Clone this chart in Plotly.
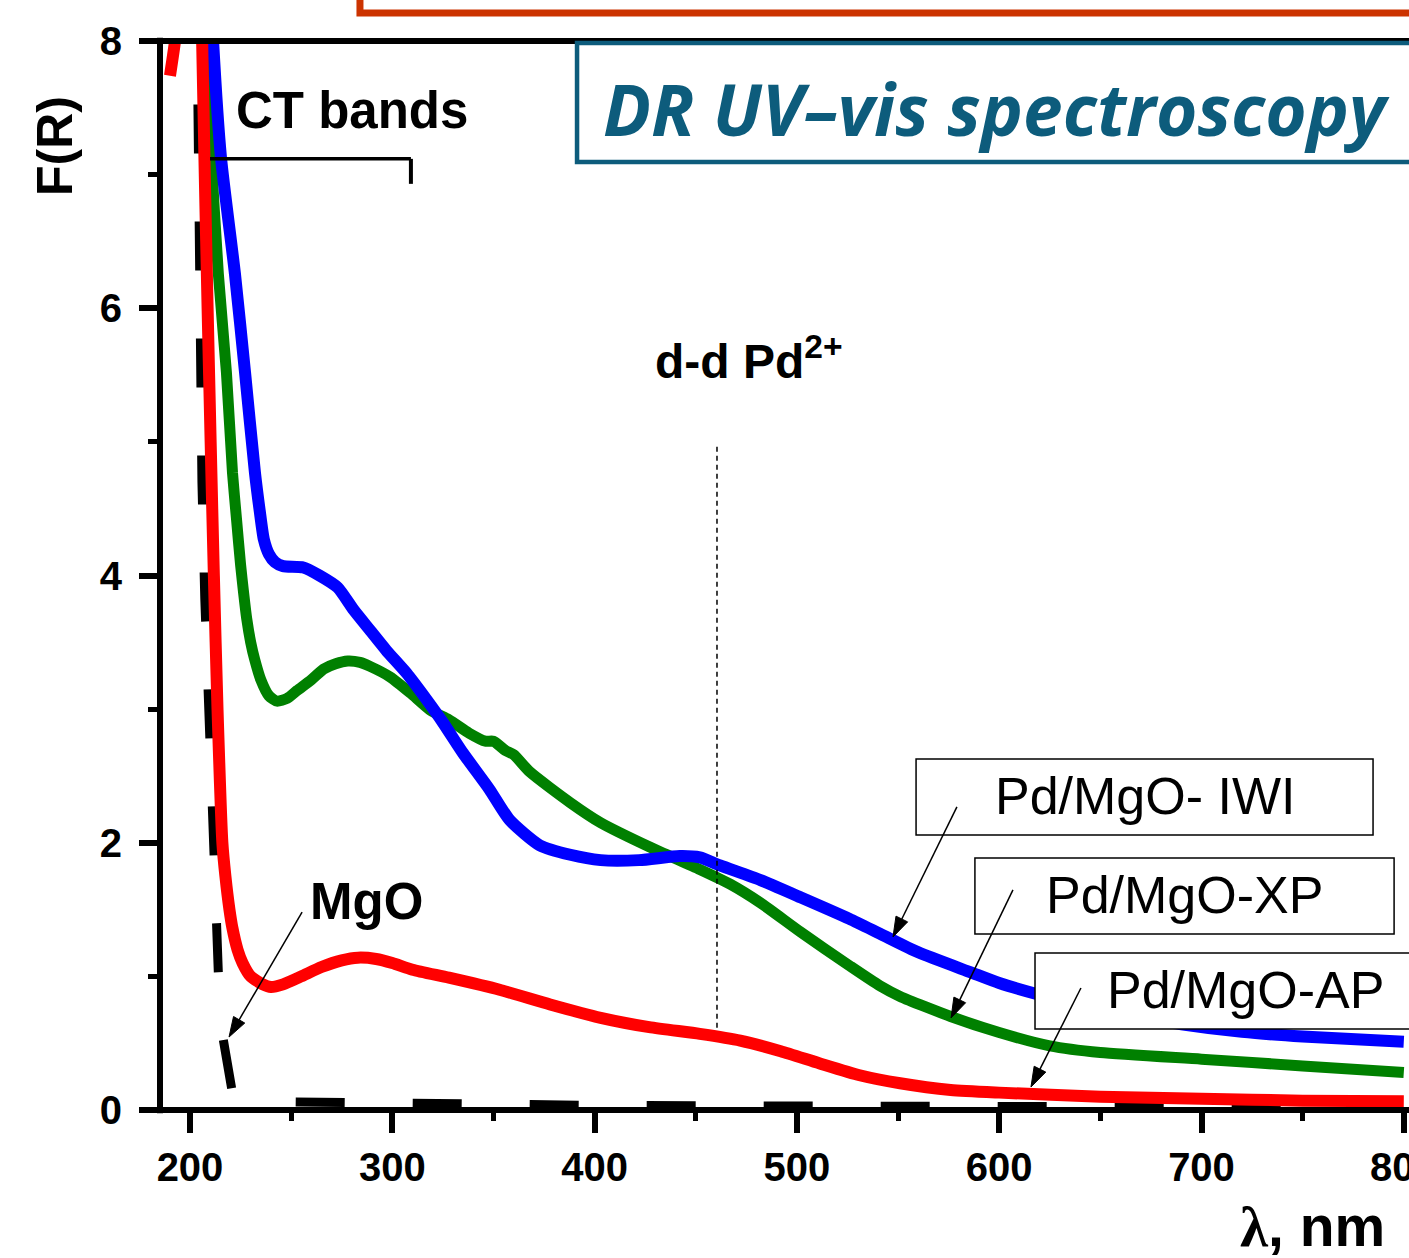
import math
import plotly.graph_objects as go

# ---- DR UV-vis spectra: wavelength (nm) and Kubelka-Munk F(R) ----
wl_iwi = [210.5, 211.4, 215.3, 222.2, 227.2, 232.1, 234.5, 236.5, 239, 242,
          246, 256, 264, 273, 281, 289, 297, 307, 317, 325,
          335, 348, 358, 373, 388, 403, 422, 442, 452, 462,
          482, 502, 526, 541, 560, 586, 600, 618, 650, 691,
          720, 750, 800]
fr_iwi = [8.3, 8.0, 7.13, 6.26, 5.52, 4.77, 4.48, 4.27, 4.16, 4.10,
          4.07, 4.06, 4.00, 3.91, 3.74, 3.59, 3.44, 3.27, 3.07, 2.90,
          2.67, 2.40, 2.17, 1.98, 1.91, 1.87, 1.87, 1.90, 1.89, 1.83,
          1.72, 1.59, 1.43, 1.32, 1.18, 1.03, 0.95, 0.87, 0.75, 0.64,
          0.585, 0.55, 0.51]

wl_xp = [207, 207.5, 210.5, 214, 218, 221, 223, 225, 226.5, 228,
         230, 232, 235, 239, 243, 248, 253, 260, 266, 272,
         278, 284, 289, 299, 309, 319, 328, 338, 346, 350,
         356, 360, 368, 388, 403, 427, 452, 467, 482, 502,
         526, 541, 551, 576, 600, 625, 650, 700, 750, 800]
fr_xp = [8.3, 8.0, 7.13, 6.26, 5.52, 4.77, 4.42, 4.08, 3.87, 3.68,
         3.50, 3.37, 3.22, 3.10, 3.06, 3.08, 3.14, 3.22, 3.30, 3.34,
         3.36, 3.35, 3.32, 3.24, 3.12, 2.99, 2.92, 2.82, 2.76, 2.76,
         2.69, 2.66, 2.53, 2.30, 2.15, 1.97, 1.80, 1.69, 1.55, 1.33,
         1.08, 0.93, 0.85, 0.70, 0.58, 0.48, 0.43, 0.38, 0.33, 0.28]

wl_ap = [190.1, 192.6, 194.5, 200, 205.3, 206, 207.3, 208.7, 210.2, 211.8,
         213.6, 216, 217.5, 219.5, 221, 223.5, 226, 230, 236, 240,
         246, 255, 265, 275, 283, 292, 300, 310, 328, 353,
         378, 403, 427, 452, 472, 492, 511, 531, 551, 576,
         600, 650, 700, 750, 800]
fr_ap = [7.74, 8.0, 8.3, 8.8, 8.4, 8.0, 7.0, 6.0, 5.0, 4.0,
         3.0, 2.0, 1.75, 1.5, 1.36, 1.2, 1.1, 1.0, 0.94, 0.92,
         0.94, 1.0, 1.07, 1.12, 1.14, 1.13, 1.10, 1.05, 0.99, 0.90,
         0.79, 0.69, 0.62, 0.57, 0.52, 0.44, 0.35, 0.26, 0.20, 0.15,
         0.13, 0.10, 0.085, 0.07, 0.065]

wl_mgo = [203.3, 203.9, 204.3, 205.0, 205.9, 207.3, 209.2, 210.9, 212.3, 214.0,
          216.3, 220.6, 226, 235, 250, 270, 300, 330, 400, 500, 600, 800]
fr_mgo = [8.40, 7.4, 6.5, 5.6, 4.7, 3.83, 2.97, 2.1, 1.4, 1.03,
          0.54, 0.16, 0.09, 0.07, 0.06, 0.055, 0.05, 0.045, 0.035, 0.03, 0.025, 0.02]

x_ticks = [200, 300, 400, 500, 600, 700, 800]
x_ticktext = ["200", "300", "400", "500", "600", "700", ""]   # 800 is written at the edge below
y_ticks = [0, 2, 4, 6, 8]

X_RANGE = [185.17, 802.57]
Y_RANGE = [0, 8]
W, H = 1409, 1258
M_L, M_R, M_T, M_B = 160, 0, 41, 148

ARIAL = "Liberation Sans, Arial, sans-serif"
TEAL = "#0d5c7c"

# pixels per data unit, used to shape the arrow heads
SX = (W - M_L - M_R) / (X_RANGE[1] - X_RANGE[0])
SY = (H - M_T - M_B) / (Y_RANGE[1] - Y_RANGE[0])

fig = go.Figure()

fig.add_trace(go.Scatter(x=wl_mgo, y=fr_mgo, mode="lines", name="MgO",
                         line=dict(color="black", width=9, dash="49px,68px")))
fig.add_trace(go.Scatter(x=wl_xp, y=fr_xp, mode="lines", name="Pd/MgO-XP",
                         line=dict(color="#008000", width=11, shape="spline", smoothing=0.6)))
fig.add_trace(go.Scatter(x=wl_iwi, y=fr_iwi, mode="lines", name="Pd/MgO- IWI",
                         line=dict(color="#0000ff", width=12, shape="spline", smoothing=0.6)))
fig.add_trace(go.Scatter(x=wl_ap, y=fr_ap, mode="lines", name="Pd/MgO-AP",
                         line=dict(color="#ff0000", width=12, shape="spline", smoothing=0.6)))

shapes = []
# frame lines (left, bottom, top)
shapes.append(dict(type="line", xref="paper", yref="paper", x0=0, x1=0,
                   y0=-0.003, y1=1.003, line=dict(color="black", width=6), layer="above"))
shapes.append(dict(type="line", xref="paper", yref="paper", x0=-0.0025, x1=1.02,
                   y0=0, y1=0, line=dict(color="black", width=6), layer="above"))
shapes.append(dict(type="line", xref="paper", yref="paper", x0=-0.0025, x1=1.02,
                   y0=1, y1=1, line=dict(color="black", width=6), layer="above"))
# slide frame at the top
shapes.append(dict(type="rect", xref="paper", yref="paper", x0=0.1601, x1=1.06,
                   y0=1.0262, y1=1.09, line=dict(color="#cc3300", width=7),
                   fillcolor="rgba(0,0,0,0)", layer="above"))
# title box
shapes.append(dict(type="rect", xref="paper", yref="paper", x0=0.3339, x1=1.06,
                   y0=0.8868, y1=0.9981, line=dict(color=TEAL, width=4.5),
                   fillcolor="white", layer="above"))
# CT bands bracket
shapes.append(dict(type="line", xref="x", yref="y", x0=209.9, x1=309.2, y0=7.118, y1=7.118,
                   line=dict(color="black", width=3.5), layer="above"))
shapes.append(dict(type="line", xref="x", yref="y", x0=309.2, x1=309.2, y0=7.118, y1=6.931,
                   line=dict(color="black", width=4), layer="above"))
# d-d marker line
shapes.append(dict(type="line", xref="x", yref="y", x0=460.5, x1=460.5, y0=4.963, y1=0.599,
                   line=dict(color="black", width=1.5, dash="5px,4px"), layer="above"))
# sample label boxes
for x0, x1, y0, y1 in [(558.9, 784.8, 2.058, 2.627),
                       (588.0, 795.2, 1.317, 1.886),
                       (617.7, 815.0, 0.606, 1.175)]:
    shapes.append(dict(type="rect", xref="x", yref="y", x0=x0, x1=x1, y0=y0, y1=y1,
                       line=dict(color="black", width=1.5), fillcolor="white", layer="above"))


def arrow_shapes(tx, ty, hx, hy, head_len=20.0, half_w=6.5):
    """Thin shaft plus a filled triangular head, from tail (tx, ty) to head (hx, hy)."""
    dx = (hx - tx) * SX
    dy = (hy - ty) * SY
    n = math.hypot(dx, dy)
    ux, uy = dx / n, dy / n
    bx, by = -ux * head_len, -uy * head_len          # head base centre, px offset from tip
    px_, py_ = -uy * half_w, ux * half_w             # perpendicular, px
    base_x, base_y = hx + bx / SX, hy + by / SY
    p1 = (hx + (bx + px_) / SX, hy + (by + py_) / SY)
    p2 = (hx + (bx - px_) / SX, hy + (by - py_) / SY)
    shaft = dict(type="line", xref="x", yref="y", x0=tx, y0=ty, x1=base_x, y1=base_y,
                 line=dict(color="black", width=1.5), layer="above")
    head = dict(type="path", xref="x", yref="y",
                path=f"M {hx},{hy} L {p1[0]},{p1[1]} L {p2[0]},{p2[1]} Z",
                fillcolor="black", line=dict(color="black", width=1), layer="above")
    return [shaft, head]


# pointer arrows: tail -> head
for tx, ty, hx, hy in [(255.4, 1.48, 219.3, 0.546),
                       (579.1, 2.268, 547.5, 1.295),
                       (606.8, 1.647, 576.2, 0.689),
                       (640.4, 0.913, 615.7, 0.172)]:
    shapes.extend(arrow_shapes(tx, ty, hx, hy))

annotations = []
bold = dict(family=ARIAL, size=51, color="black", weight="bold")
annotations.append(dict(x=280.1, y=7.481, xref="x", yref="y", text="CT bands",
                        showarrow=False, font=bold, xanchor="center", yanchor="middle"))
annotations.append(dict(x=428.9, y=5.63, xref="x", yref="y", text="d-d Pd<sup>2+</sup>",
                        showarrow=False, font=dict(family=ARIAL, size=48, color="black", weight="bold"),
                        xanchor="left", yanchor="middle"))
annotations.append(dict(x=287.0, y=1.564, xref="x", yref="y", text="MgO",
                        showarrow=False, font=bold, xanchor="center", yanchor="middle"))

label_font = dict(family=ARIAL, size=52, color="black")
for txt, x, y in [("Pd/MgO- IWI", 672.1, 2.35), ("Pd/MgO-XP", 691.4, 1.609),
                  ("Pd/MgO-AP", 721.5, 0.898)]:
    annotations.append(dict(x=x, y=y, xref="x", yref="y", text=txt, showarrow=False,
                            font=label_font, xanchor="center", yanchor="middle"))

tickfont = dict(family=ARIAL, size=40, color="black", weight="bold")
# last x tick label sits at the right edge of the page
annotations.append(dict(x=x_ticks[-1], y=-0.0308, xref="x", yref="paper", text="800",
                        showarrow=False, font=tickfont, xanchor="center", yanchor="top"))

annotations.append(dict(x=0.6701, y=0.9364, xref="paper", yref="paper",
                        text="DR UV\u2013vis spectroscopy", showarrow=False,
                        font=dict(family="Open Sans, sans-serif", size=71, color=TEAL,
                                  weight="bold", style="italic"),
                        xanchor="center", yanchor="middle"))
annotations.append(dict(x=-0.0841, y=0.9018, xref="paper", yref="paper", text="F(R)",
                        textangle=-90, showarrow=False,
                        font=dict(family=ARIAL, size=50, color="black", weight="bold"),
                        xanchor="center", yanchor="middle"))
annotations.append(dict(x=0.9231, y=-0.1085, xref="paper", yref="paper",
                        text="<span style='font-family:Liberation Serif'>\u03bb</span>, nm",
                        showarrow=False,
                        font=dict(family=ARIAL, size=57, color="black", weight="bold"),
                        xanchor="center", yanchor="middle"))

fig.update_layout(
    width=W, height=H,
    margin=dict(l=M_L, r=M_R, t=M_T, b=M_B, autoexpand=False),
    paper_bgcolor="white", plot_bgcolor="white",
    showlegend=False,
    shapes=shapes, annotations=annotations,
    xaxis=dict(range=X_RANGE, tickvals=x_ticks, ticktext=x_ticktext, ticks="outside",
               ticklen=22, tickwidth=6, tickcolor="black", tickfont=tickfont,
               showline=False, showgrid=False, zeroline=False, ticklabelstandoff=0,
               minor=dict(dtick=50, tick0=200, ticks="outside", ticklen=10, tickwidth=5,
                          tickcolor="black", showgrid=False)),
    yaxis=dict(range=Y_RANGE, tickvals=y_ticks, ticks="outside", ticklen=20,
               tickwidth=6, tickcolor="black", tickfont=tickfont, showline=False,
               showgrid=False, zeroline=False, ticklabelstandoff=9,
               minor=dict(dtick=1, tick0=0, ticks="outside", ticklen=11, tickwidth=5,
                          tickcolor="black", showgrid=False)),
)

fig.write_html("out.html")
